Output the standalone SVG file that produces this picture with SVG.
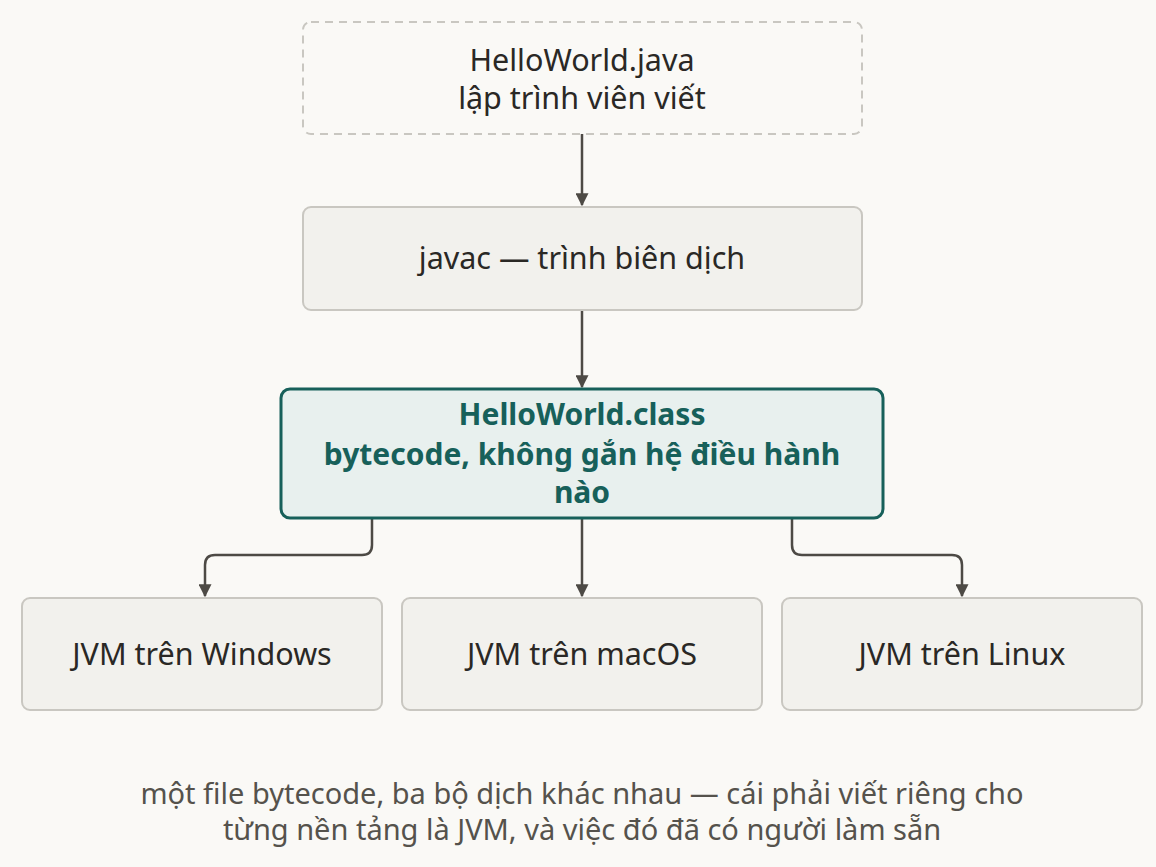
<svg xmlns="http://www.w3.org/2000/svg" width="1156" height="867" viewBox="0 0 1156 867">
<defs>
<marker id="ah" viewBox="0 0 10 10" refX="9" refY="5" markerWidth="13" markerHeight="13" markerUnits="userSpaceOnUse" orient="auto"><path d="M0,0 L10,5 L0,10 z" fill="#4d4a45"/></marker>
<style>
.t{font-family:"Noto Sans","Liberation Sans",sans-serif;font-size:30.5px;fill:#2a2825;text-anchor:middle}
.b{fill:#f2f1ed;stroke:#c9c7c1;stroke-width:2}
.h{font-family:"Noto Sans","Liberation Sans",sans-serif;font-size:30px;font-weight:bold;fill:#17605a;text-anchor:middle}
.c{font-family:"Noto Sans","Liberation Sans",sans-serif;font-size:29px;fill:#55524c;text-anchor:middle}
.e{fill:none;stroke:#4d4a45;stroke-width:2.5;marker-end:url(#ah)}
</style>
</defs>
<rect width="1156" height="867" fill="#faf9f6"/>
<g id="connectors">
<path class="e" d="M582,134 V205"/>
<path class="e" d="M582,310 V387"/>
<path class="e" d="M582,518 V596"/>
<path class="e" d="M372,518 V545 Q372,555 362,555 H215 Q205,555 205,565 V596"/>
<path class="e" d="M792,518 V545 Q792,555 802,555 H952 Q962,555 962,565 V596"/>
</g>
<g id="src"><rect x="303" y="22" width="559" height="112" rx="8" fill="#faf9f6" stroke="#c9c7c1" stroke-width="2" stroke-dasharray="8 6"/>
<text class="t" x="582" y="71">HelloWorld.java</text><text class="t" x="582" y="109">lập trình viên viết</text></g>
<g id="javac"><rect class="b" x="303" y="207" width="559" height="103" rx="8"/><text class="t" x="582" y="269">javac — trình biên dịch</text></g>
<g id="cls"><rect x="281" y="389" width="602" height="129" rx="9" fill="#e8f0ee" stroke="#17605a" stroke-width="3"/>
<text class="h" x="582" y="425">HelloWorld.class</text><text class="h" x="582" y="465">bytecode, không gắn hệ điều hành</text><text class="h" x="582" y="503">nào</text></g>
<g id="win"><rect class="b" x="22" y="598" width="360" height="112" rx="8"/><text class="t" x="202" y="665">JVM trên Windows</text></g>
<g id="mac"><rect class="b" x="402" y="598" width="360" height="112" rx="8"/><text class="t" x="582" y="665">JVM trên macOS</text></g>
<g id="lin"><rect class="b" x="782" y="598" width="360" height="112" rx="8"/><text class="t" x="962" y="665">JVM trên Linux</text></g>
<text class="c" x="582" y="804">một file bytecode, ba bộ dịch khác nhau — cái phải viết riêng cho</text>
<text class="c" x="582" y="840">từng nền tảng là JVM, và việc đó đã có người làm sẵn</text>
</svg>
